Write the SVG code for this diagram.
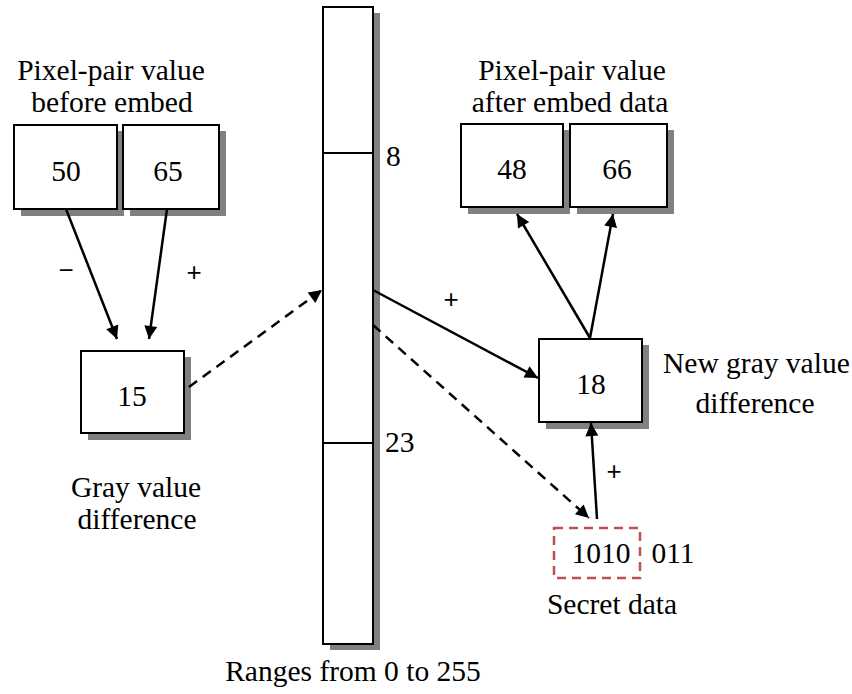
<svg xmlns="http://www.w3.org/2000/svg" width="852" height="694" viewBox="0 0 852 694">
  <style>
    .box { fill: #ffffff; stroke: #000000; stroke-width: 2; }
    .shadow { fill: #808080; }
    .t { font-family: "Liberation Serif", "Times New Roman", serif; font-size: 29.5px; fill: #000000; }
    .sign { font-family: "Liberation Sans", Arial, sans-serif; font-size: 26px; fill: #000000; }
    .mid { text-anchor: middle; }
    .solid { fill: none; stroke: #000000; stroke-width: 2.5; }
    .dash { fill: none; stroke: #000000; stroke-width: 2.5; stroke-dasharray: 10 7; }
  </style>
  <defs>
    <marker id="arrow" viewBox="0 0 10 10" refX="10" refY="5" markerWidth="17" markerHeight="13" markerUnits="userSpaceOnUse" orient="auto" overflow="visible">
      <path d="M0,0 L10,5 L0,10 Z" fill="#000000"/>
    </marker>
  </defs>
  <rect width="852" height="694" fill="#ffffff"/>

  <!-- range bar 0..255 -->
  <g id="range-bar">
    <rect class="shadow" x="330" y="13" width="50" height="637"/>
    <rect class="box" x="323" y="7" width="50" height="637"/>
    <line x1="323" y1="153" x2="373" y2="153" stroke="#000" stroke-width="2"/>
    <line x1="323" y1="443" x2="373" y2="443" stroke="#000" stroke-width="2"/>
    <text class="t" x="386" y="166">8</text>
    <text class="t" x="385" y="452">23</text>
    <text class="t mid" x="353" y="681">Ranges from 0 to 255</text>
  </g>

  <!-- original pixel pair -->
  <g id="pair-before">
    <text class="t mid" x="111" y="80">Pixel-pair value</text>
    <text class="t mid" x="112" y="112">before embed</text>
    <rect class="shadow" x="21" y="131" width="103" height="85"/>
    <rect class="shadow" x="130" y="131" width="96" height="85"/>
    <rect class="box" x="14" y="125" width="103" height="84"/>
    <rect class="box" x="123" y="125" width="96" height="84"/>
    <text class="t mid" x="66" y="181">50</text>
    <text class="t mid" x="168" y="181">65</text>
  </g>

  <!-- pixel pair after embedding -->
  <g id="pair-after">
    <text class="t mid" x="572" y="80">Pixel-pair value</text>
    <text class="t mid" x="570" y="112">after embed data</text>
    <rect class="shadow" x="468" y="130" width="102" height="84"/>
    <rect class="shadow" x="577" y="130" width="97" height="84"/>
    <rect class="box" x="461" y="124" width="102" height="83"/>
    <rect class="box" x="570" y="124" width="97" height="83"/>
    <text class="t mid" x="512" y="179">48</text>
    <text class="t mid" x="617" y="179">66</text>
  </g>

  <!-- difference of the original pair -->
  <g id="diff-before">
    <rect class="shadow" x="88" y="357" width="103" height="83"/>
    <rect class="box" x="81" y="351" width="103" height="82"/>
    <text class="t mid" x="132" y="406">15</text>
    <text class="t mid" x="136" y="497">Gray value</text>
    <text class="t mid" x="137" y="529">difference</text>
  </g>

  <!-- new difference -->
  <g id="diff-after">
    <rect class="shadow" x="546" y="345" width="103" height="84"/>
    <rect class="box" x="539" y="339" width="103" height="83"/>
    <text class="t mid" x="591" y="394">18</text>
    <text class="t" x="663" y="373">New gray value</text>
    <text class="t mid" x="755" y="413">difference</text>
  </g>

  <!-- secret bit stream -->
  <g id="secret-data">
    <rect x="554" y="528" width="86" height="50" fill="none" stroke="#c0504d" stroke-width="2.5" stroke-dasharray="9 6"/>
    <text class="t mid" x="601" y="563">1010</text>
    <text class="t mid" x="673" y="563">011</text>
    <text class="t mid" x="612" y="614">Secret data</text>
  </g>

  <!-- connectors -->
  <g id="connectors">
    <line class="solid" x1="66" y1="209" x2="117" y2="339" marker-end="url(#arrow)"/>
    <line class="solid" x1="167" y1="209" x2="149" y2="339" marker-end="url(#arrow)"/>
    <line class="dash" x1="189" y1="387" x2="322" y2="290" marker-end="url(#arrow)"/>
    <line class="solid" x1="373" y1="290" x2="538" y2="378" marker-end="url(#arrow)"/>
    <line class="dash" x1="373" y1="325" x2="589" y2="518" marker-end="url(#arrow)"/>
    <line class="solid" x1="597" y1="519" x2="591" y2="423" marker-end="url(#arrow)"/>
    <line class="solid" x1="590" y1="338" x2="517" y2="214" marker-end="url(#arrow)"/>
    <line class="solid" x1="590" y1="338" x2="613" y2="214" marker-end="url(#arrow)"/>
    <text class="sign mid" x="66" y="279">−</text>
    <text class="sign mid" x="194" y="281">+</text>
    <text class="sign mid" x="451" y="308">+</text>
    <text class="sign mid" x="614" y="480">+</text>
  </g>
</svg>
